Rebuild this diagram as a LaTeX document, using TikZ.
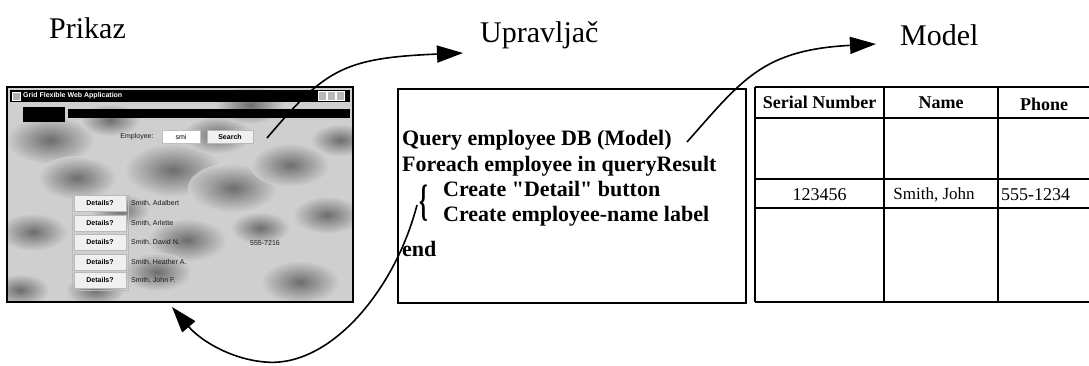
\documentclass[tikz,border=0pt]{standalone}
\usepackage{fontspec}
\usepackage{graphicx}
\setmainfont{Liberation Serif}
\newfontfamily\uifont{Liberation Sans}
\newfontfamily\rawserif{Liberation Serif}[Ligatures=TeXOff]
\usetikzlibrary{arrows.meta}
\tikzset{
  title/.style={font=\fontsize{30}{30}\selectfont, anchor=base west, inner sep=0},
  code/.style={font=\fontsize{22}{22}\selectfont\bfseries, anchor=base west, inner sep=0},
  hdr/.style={font=\fontsize{18}{18}\selectfont\bfseries, anchor=base, inner sep=0},
  cell/.style={font=\fontsize{18}{18}\selectfont, anchor=base, inner sep=0},
  tbl/.style={line width=1.5pt},
  ui/.style={font=\uifont\fontsize{7}{7}\selectfont, inner sep=0},
  uibtn/.style={font=\uifont\bfseries\fontsize{7}{7}\selectfont, inner sep=0, fill=gray!12, draw=gray!55},
  bigarrow/.style={line width=1.6pt, -{Triangle[length=26pt,width=17pt]}},
  blob/.style={inner color=black!70, outer color=gray!35, opacity=0.75}
}
\newcommand{\dq}{{\rawserif\bfseries\symbol{34}}}
\begin{document}
\begin{tikzpicture}[x=1pt,y=-1pt]
\fill[white] (0,0) rectangle (1089,365);
\useasboundingbox (0,0) rectangle (1089,365);

% titles
\node[title] (prikaz) at (49,38) {Prikaz};
\node[title] (upr) at (480,42) {Upravljač};
\node[title] (model) at (900,45) {Model};

% ---------- screenshot window ----------
\begin{scope}
  \clip (7,87) rectangle (353,302);
  \fill[gray!38] (7,87) rectangle (353,302);
  \foreach \x/\y/\r in {50/140/45, 77/178/40, 173/170/50, 233/188/45, 290/165/40,
                        327/215/35, 187/240/40, 157/272/35, 300/282/40, 33/232/35,
                        217/135/35, 120/210/30, 260/228/30, 95/290/30, 340/140/30,
                        20/290/30, 250/105/35, 110/120/30}
    \shade[blob] (\x,\y) ellipse [x radius=\r, y radius=0.55*\r];
\end{scope}
\draw[line width=1.3pt] (7,87) rectangle (353,302);
% title bar
\fill[black] (10,90) rectangle (350,102);
\draw[white, fill=gray!60] (12,92) rectangle (20,100);
\node[ui, font=\uifont\bfseries\fontsize{7}{7}\selectfont, text=white, anchor=west] (wtitle) at (23,96) {Grid Flexible Web Application};
\foreach \x in {318,327,336}
  \draw[white, fill=gray!55] (\x,91.5) rectangle +(8,8.5);
% second bar
\fill[black] (23,107) rectangle (65,122);
\fill[black] (68,109) rectangle (350,118);
% search row
\node[ui, text=gray!20!black] (emp) at (137,137) {Employee:};
\node[ui, fill=white, draw=gray!50, minimum width=38pt, minimum height=13pt] (field) at (181,137) {smi};
\node[uibtn, minimum width=46pt, minimum height=13pt] (search) at (230,137) {Search};
% result rows
\draw[gray!55] (72,195) rectangle (128,290);
\foreach \y/\n [count=\i] in {203/{Smith, Adalbert}, 223/{Smith, Arlette}, 242/{Smith, David N.},
                    262/{Smith, Heather A.}, 280/{Smith, John F.}} {
  \node[uibtn, minimum width=52pt, minimum height=16pt] (det\i) at (100,\y) {Details?};
  \node[ui, anchor=west, text=gray!20!black] (nm\i) at (131,\y) {\n};
}
\node[ui, text=gray!20!black] (ph) at (265,243) {555-7216};

% ---------- controller box ----------
\node[draw, line width=1.5pt, minimum width=348pt, minimum height=214pt,
      anchor=north west, inner sep=0] (ctrl) at (397,88) {};
\node[code] (c1) at (402,145) {Query employee DB (Model)};
\node[code] (c2) at (402,171) {Foreach employee in queryResult};
\node[font=\fontsize{44}{44}\selectfont\bfseries, inner sep=0] (brace) at (424,203) {\scalebox{0.5}[1]{\{}};
\node[code] (c3) at (443,196) {Create \dq Detail\dq{} button};
\node[code] (c4) at (443,221) {Create employee-name label};
\node[code] (c5) at (402,256) {end};

% ---------- model table ----------
\foreach \y in {87,118,179,208,302}
  \draw[tbl] (755,\y) -- (1089,\y);
\foreach \x in {755,884,998}
  \draw[tbl] (\x,87) -- (\x,302);
\node[hdr] (h1) at (819.5,108) {Serial Number};
\node[hdr] (h2) at (941,108) {Name};
\node[hdr] (h3) at (1044,110) {Phone};
\node[cell] (r1) at (819.5,200) {123456};
\node[cell, font=\fontsize{17}{17}\selectfont] (r2) at (934,199) {Smith, John};
\node[cell, anchor=base west] (r3) at (1001,200) {555-1234};

% ---------- arrows ----------
\coordinate (a1s) at (267,138);
\coordinate (a1e) at (463,53);
\draw[bigarrow] (a1s) .. controls (325,70) and (342,58) .. (a1e);
\coordinate (a2s) at (687,142);
\coordinate (a2e) at (876,44);
\draw[bigarrow] (a2s) .. controls (742,80) and (762,50) .. (a2e);
\coordinate (a3s) at (417,205);
\coordinate (a3e) at (172,307);
\draw[bigarrow] (a3s) .. controls (395,290) and (330,368) .. (265,362)
                      .. controls (230,359) and (200,340) .. (a3e);
\end{tikzpicture}
\end{document}
